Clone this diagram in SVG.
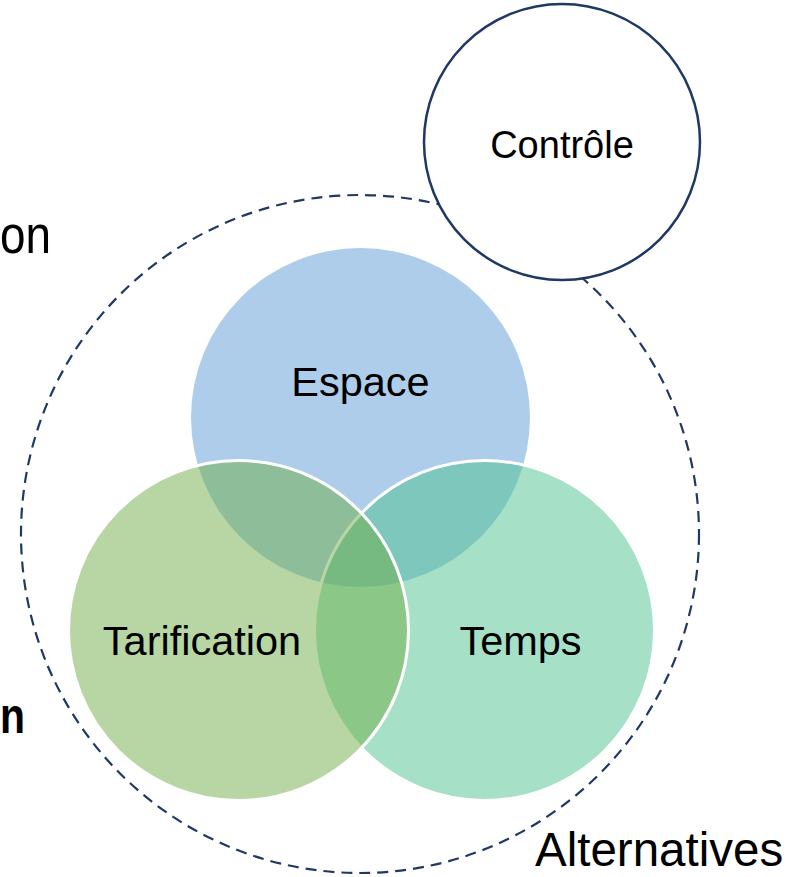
<svg xmlns="http://www.w3.org/2000/svg" width="787" height="877" viewBox="0 0 787 877">
  <style>
    .lbl { font-family: "Liberation Sans", Arial, sans-serif; fill: #000; }
    .venn { fill-opacity: 0.5; stroke: #fff; stroke-width: 3; }
    .bound { fill: none; stroke: #1F3864; stroke-width: 2.2; stroke-dasharray: 11 7; }
    .ctrl { fill: #fff; stroke: #1F3864; stroke-width: 2.5; }
  </style>
  <rect width="787" height="877" fill="#fff"/>

  <!-- labels at the left border -->
  <g id="edge-labels">
    <text class="lbl" x="0" y="253" font-size="54" textLength="51" lengthAdjust="spacingAndGlyphs">on</text>
    <text class="lbl" x="0" y="733" font-size="50" font-weight="bold" textLength="25" lengthAdjust="spacingAndGlyphs">n</text>
  </g>

  <!-- dashed boundary of the alternatives -->
  <g id="alternatives">
    <circle class="bound" cx="360" cy="534" r="339"/>
    <text class="lbl" x="535" y="866" font-size="47.5">Alternatives</text>
  </g>

  <!-- control circle -->
  <g id="controle">
    <circle class="ctrl" cx="562" cy="142" r="138"/>
    <text class="lbl" x="562" y="158" font-size="38" text-anchor="middle">Contrôle</text>
  </g>

  <!-- Venn circles -->
  <g id="espace">
    <circle cx="360.5" cy="417.5" r="169.5" fill="#5B9BD5" fill-opacity="0.5"/>
  </g>
  <g id="temps">
    <circle class="venn" cx="484.5" cy="630.5" r="170" fill="#4DC18D"/>
  </g>
  <g id="tarification">
    <circle class="venn" cx="238.5" cy="630.5" r="170" fill="#70AD47"/>
  </g>

  <g id="venn-labels">
    <text class="lbl" x="360.5" y="396" font-size="41.5" text-anchor="middle">Espace</text>
    <text class="lbl" x="202" y="655" font-size="41.5" text-anchor="middle">Tarification</text>
    <text class="lbl" x="520.5" y="655" font-size="41.5" text-anchor="middle">Temps</text>
  </g>

  <g id="connectors"/>
</svg>
